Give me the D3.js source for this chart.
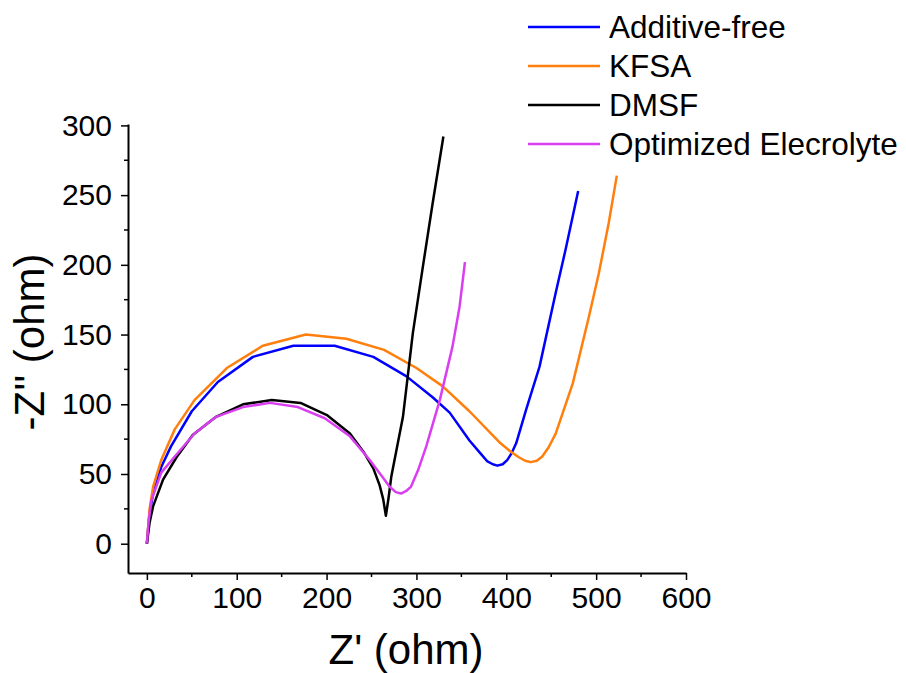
<!DOCTYPE html>
<html>
<head>
<meta charset="utf-8">
<script src="https://cdn.jsdelivr.net/npm/d3@7"></script>
<style>
  body { margin: 0; background: #fff; }
  text { font-family: Arial, "Liberation Sans", sans-serif; fill: #000; }
</style>
</head>
<body>
<script>
// series names and colours
var seriesNames = ["Additive-free", "KFSA", "DMSF", "Optimized Elecrolyte"]
var seriesColors = ["#0000ff", "#ff7f0e", "#000000", "#d93ff0"]

// Z' / -Z'' values (ohm)
var additiveX = [0, 3, 7, 16, 27, 50, 79, 118, 163, 209, 252, 289, 318, 337, 359, 371, 379, 385, 390, 396, 401, 406, 411, 422, 437, 455, 466, 480]
var additiveY = [0, 22, 36, 55, 70, 95, 116, 134, 142, 142, 134, 120, 105, 94, 74, 65, 59, 57, 56, 57, 60, 65, 72, 96, 127, 180, 211, 253]

var kfsaX = [0, 3, 7, 16, 31, 53, 89, 129, 177, 222, 264, 300, 329, 359, 392, 405, 414, 421, 427, 434, 440, 447, 455, 474, 492, 503, 514, 523]
var kfsaY = [0, 25, 41, 60, 82, 103, 126, 142, 150, 147, 139, 126, 113, 95, 73, 66, 62, 59.5, 58.5, 59.5, 62.5, 69, 79, 115, 163, 194, 230, 264]

var dmsfX = [0, 3, 7, 18, 33, 51, 77, 107, 139, 171, 201, 226, 242, 252, 259, 263, 266, 269, 272, 285, 296, 307, 318, 330]
var dmsfY = [0, 15, 27, 46, 62, 78, 91, 100, 103, 101, 92, 79, 65, 54, 42, 32, 20, 33, 48, 91, 151, 198, 244, 292]

var optX = [0, 2, 5, 16, 33, 53, 77, 107, 137, 168, 198, 226, 248, 262, 270, 277, 283, 289, 294, 302, 311, 326, 340, 348, 354]
var optY = [0, 16, 31, 51, 64, 79, 91, 98, 101, 98, 90, 77, 60, 48, 41, 37, 36, 38, 41, 53, 70, 103, 141, 170, 202]

var xTicks = [0, 100, 200, 300, 400, 500, 600]
var yTicks = [0, 50, 100, 150, 200, 250, 300]

var allX = [additiveX, kfsaX, dmsfX, optX]
var allY = [additiveY, kfsaY, dmsfY, optY]

var width = 906, height = 673
var margin = {top: 124, right: 220, bottom: 100, left: 128}

var svg = d3.select("body").append("svg")
    .attr("width", width)
    .attr("height", height)

var x = d3.scaleLinear()
    .domain([-21, 600])
    .range([margin.left, width - margin.right])

var y = d3.scaleLinear()
    .domain([-21, 301])
    .range([height - margin.bottom, margin.top])

// minor ticks
var xMinor = d3.range(50, 600, 100)
var yMinor = d3.range(25, 300, 50)

var xAxis = svg.append("g")
    .attr("transform", "translate(0," + (height - margin.bottom) + ")")
    .call(d3.axisBottom(x).tickValues(xTicks).tickSizeInner(7).tickSizeOuter(0).tickPadding(7))
xAxis.selectAll("text").style("font-size", "30px")
xAxis.selectAll(".minor")
    .data(xMinor)
    .enter().append("line")
    .attr("x1", function(d) { return x(d) })
    .attr("x2", function(d) { return x(d) })
    .attr("y1", 0).attr("y2", 4)
    .attr("stroke", "#000").attr("stroke-width", 1.5)

var yAxis = svg.append("g")
    .attr("transform", "translate(" + margin.left + ",0)")
    .call(d3.axisLeft(y).tickValues(yTicks).tickSizeInner(7).tickSizeOuter(0).tickPadding(9))
yAxis.selectAll("text").style("font-size", "30px")
yAxis.selectAll(".minor")
    .data(yMinor)
    .enter().append("line")
    .attr("y1", function(d) { return y(d) })
    .attr("y2", function(d) { return y(d) })
    .attr("x1", 0).attr("x2", -4)
    .attr("stroke", "#000").attr("stroke-width", 1.5)

svg.selectAll(".domain").attr("stroke-width", 2)
svg.selectAll(".tick line").attr("stroke-width", 1.5)

// axis titles
svg.append("text")
    .attr("x", 406)
    .attr("y", 664)
    .attr("text-anchor", "middle")
    .style("font-size", "42px")
    .text("Z' (ohm)")

svg.append("text")
    .attr("transform", "translate(44,342) rotate(-90)")
    .attr("text-anchor", "middle")
    .style("font-size", "42px")
    .text("-Z'' (ohm)")

var line = d3.line()
    .x(function(d) { return x(d[0]) })
    .y(function(d) { return y(d[1]) })

for (var i = 0; i < 4; i++) {
    var pts = allX[i].map(function(v, j) { return [v, allY[i][j]] })
    svg.append("path")
        .datum(pts)
        .attr("fill", "none")
        .attr("stroke", seriesColors[i])
        .attr("stroke-width", 2.5)
        .attr("stroke-linejoin", "round")
        .attr("d", line)
}

// legend
var legend = svg.append("g")
var legendY = [27, 66, 105, 144]
seriesNames.forEach(function(name, i) {
    legend.append("line")
        .attr("x1", 528).attr("x2", 600)
        .attr("y1", legendY[i]).attr("y2", legendY[i])
        .attr("stroke", seriesColors[i])
        .attr("stroke-width", 2.5)
    legend.append("text")
        .attr("x", 609)
        .attr("y", legendY[i] + 11)
        .style("font-size", "31.5px")
        .text(name)
})
</script>
</body>
</html>
